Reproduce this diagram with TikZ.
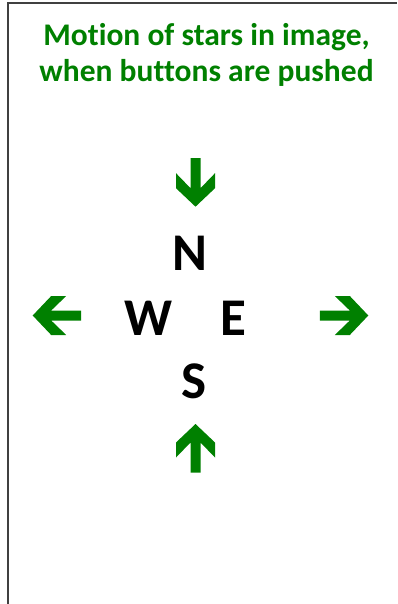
\documentclass[tikz,border=0pt]{standalone}
\usepackage{fontspec}
\setmainfont{Carlito}[Ligatures=NoCommon]
\usepackage{tikz}
\usetikzlibrary{positioning}

\begin{document}
\begin{tikzpicture}[
		x=1pt,
		y=-1pt,
		heading/.style={
			text=green!50!black,
			align=center,
			inner sep=0pt,
			font=\bfseries\fontsize{31.5}{36}\selectfont
		},
		compass/.style={
			anchor=base,
			inner sep=0pt,
			font=\bfseries\fontsize{53}{60}\selectfont
		},
		garrow/.pic={
			\fill[green!50!black] (0,0) -- (-18.5,19.5) -- (-33.5,19.5) -- (-18.5,5)
			-- (-48.5,5) -- (-48.5,-5) -- (-18.5,-5) -- (-33.5,-19.5)
			-- (-18.5,-19.5) -- cycle;
		}
		]
		
		\useasboundingbox (0,0) rectangle (397,604);
		
		%--------------------------------------------------
		% Frame
		%--------------------------------------------------
		
		\draw[line width=1.5pt,black!75] (7.8,604) -- (7.8,2.8) -- (397,2.8);
		
		%--------------------------------------------------
		% Nodes
		%--------------------------------------------------
		
		\node[heading] (title) at (206.5,55)
		{Motion of stars in image,\\when buttons are pushed};
		
		\node[compass] (n) at (190,270) {N};
		
		\node[compass] (w) at (148.3,335) {W};
		
		\node[compass] (e) at (233,335) {E};
		
		\node[compass] (s) at (194,398.5) {S};
		
		%--------------------------------------------------
		% Arrows
		%--------------------------------------------------
		
		\pic[rotate=-90] at (195.5,206.7) {garrow};
		
		\pic[rotate=90] at (195.5,424) {garrow};
		
		\pic[rotate=180] at (32.7,315.5) {garrow};
		
		\pic at (368.3,315.5) {garrow};
		
	\end{tikzpicture}
\end{document}
